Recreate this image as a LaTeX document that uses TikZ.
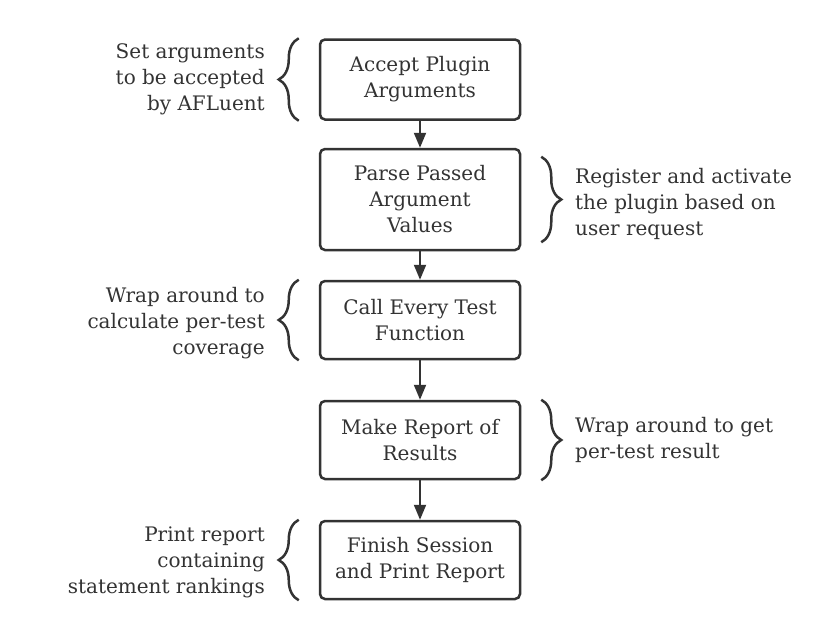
\documentclass[tikz,border=0pt]{standalone}
\usepackage{fontspec}
\setmainfont{DejaVu Serif}
\usetikzlibrary{arrows.meta}
\usetikzlibrary{decorations.pathreplacing}
\definecolor{ink}{HTML}{333333}

\begin{document}
\begin{tikzpicture}[x=1pt,y=-1pt,
  stepbox/.style={draw=ink, line width=2.5pt, rounded corners=5pt,
    minimum width=200pt, align=center, text=ink,
    font=\fontsize{20}{26}\selectfont},
  note/.style={text=ink, inner sep=0pt, font=\fontsize{20}{26}\selectfont},
  flow/.style={draw=ink, line width=2pt, -{Triangle[length=15pt,width=12pt]}},
  curly/.style={draw=ink, line width=2.5pt, decorate,
    decoration={brace, amplitude=20pt}}]
\useasboundingbox (0,0) rectangle (840,640);

% the five steps
\node[stepbox, minimum height=80pt] (accept) at (420,79.5) {Accept Plugin\\Arguments};
\node[stepbox, minimum height=101pt] (parse) at (420,199.5) {Parse Passed\\Argument\\Values};
\node[stepbox, minimum height=78pt] (call) at (420,320) {Call Every Test\\Function};
\node[stepbox, minimum height=78pt] (report) at (420,440) {Make Report of\\Results};
\node[stepbox, minimum height=78pt] (finish) at (420,560) {Finish Session\\and Print Report};

\draw[flow] (accept) -- (parse);
\draw[flow] (parse) -- (call);
\draw[flow] (call) -- (report);
\draw[flow] (report) -- (finish);

% braces
\draw[curly] ([xshift=-20pt]accept.south west) -- ([xshift=-20pt]accept.north west);
\draw[curly] ([xshift=20pt,yshift=-9pt]parse.north east) -- ([xshift=20pt,yshift=9pt]parse.south east);
\draw[curly] ([xshift=-20pt]call.south west) -- ([xshift=-20pt]call.north west);
\draw[curly] ([xshift=20pt]report.north east) -- ([xshift=20pt]report.south east);
\draw[curly] ([xshift=-20pt]finish.south west) -- ([xshift=-20pt]finish.north west);

% side notes
\node[note, anchor=east, align=right] (setargs) at (265,79) {Set arguments\\to be accepted\\by AFLuent};
\node[note, anchor=west, align=left] (register) at (575,204) {Register and activate\\the plugin based on\\user request};
\node[note, anchor=east, align=right] (wrapcov) at (265,323) {Wrap around to\\calculate per-test\\coverage};
\node[note, anchor=west, align=left] (wrapres) at (575,440) {Wrap around to get\\per-test result};
\node[note, anchor=east, align=right] (printrep) at (265,562) {Print report\\containing\\statement rankings};
\end{tikzpicture}
\end{document}
